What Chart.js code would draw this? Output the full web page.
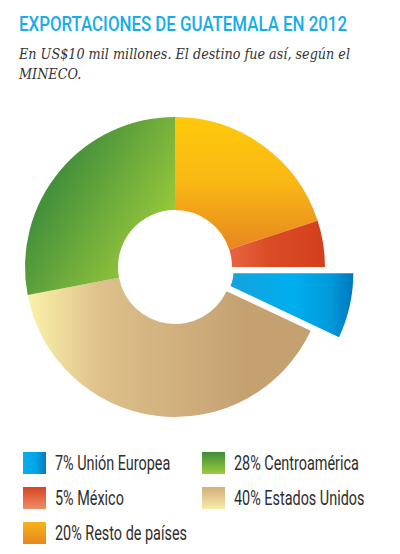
<!DOCTYPE html>
<html>
<head>
<meta charset="utf-8">
<script src="https://cdn.jsdelivr.net/npm/chart.js@4.4.1/dist/chart.umd.min.js"></script>
<style>
  html,body{margin:0;padding:0;background:#fff;}
  body{width:400px;height:554px;position:relative;overflow:hidden;}
  .fit{display:inline-block;transform-origin:0 0;white-space:nowrap;}
  #title{position:absolute;left:19px;top:12px;font-family:Roboto,"Liberation Sans",sans-serif;font-weight:500;font-size:20px;line-height:24px;color:#16ADE9;}
  #sub{position:absolute;left:19px;top:44px;font-family:"DejaVu Serif",serif;font-style:italic;font-size:14px;line-height:20px;color:#333;}
  #sub .fit{display:block;}
  #wrap{position:absolute;left:0;top:100px;width:400px;height:334px;}
  .item{position:absolute;height:22px;width:170px;}
  .sw{position:absolute;left:0;top:0;width:23px;height:22px;}
  .lbl{position:absolute;left:32px;top:-1px;line-height:24px;font-family:Roboto,"Liberation Sans",sans-serif;font-size:20px;color:#2e2e2e;}
</style>
</head>
<body>
<div id="title"><span class="fit" id="titleText">EXPORTACIONES DE GUATEMALA EN 2012</span></div>
<div id="sub"><span class="fit" id="sub1">En US$10 mil millones. El destino fue así, según el</span><span class="fit" id="sub2">MINECO.</span></div>
<div id="wrap"><canvas id="c" width="400" height="334"></canvas></div>
<div id="legend"></div>
<script>
// ---- Data (clockwise from 12 o'clock) ----
const categories = ["Resto de países", "México", "Unión Europea", "Estados Unidos", "Centroamérica"];
const shares = [20, 5, 7, 40, 28];
// Legend order (left column top-to-bottom, then right column)
const legendOrder = ["Unión Europea", "México", "Resto de países", "Centroamérica", "Estados Unidos"];

// ---- Styles ----
const explodedName = "Unión Europea";
const explodeDistance = 29;
const explodedInnerRadius = 30;

const swatchCss = {
  "Unión Europea": "linear-gradient(to right,#0AADEC,#00A6E6 55%,#0A78BB)",
  "Centroamérica": "linear-gradient(to bottom,#3C8C3A,#9CCB3C)",
  "México": "linear-gradient(to bottom,#D6451F,#F08C6B)",
  "Estados Unidos": "linear-gradient(to bottom,#D2AF7B,#F8EBA8)",
  "Resto de países": "linear-gradient(to bottom,#F6B41A,#E8861E)"
};

function makeFill(name, ctx, cx, cy) {
  let g;
  if (name === "Resto de países") {
    g = ctx.createLinearGradient(0, cy - 150, 0, cy - 20);
    g.addColorStop(0, "#FFC90A"); g.addColorStop(0.5, "#F9B815"); g.addColorStop(1, "#E8881F");
  } else if (name === "México") {
    g = ctx.createLinearGradient(cx + 57, 0, cx + 150, 0);
    g.addColorStop(0, "#E5643F"); g.addColorStop(0.4, "#DA4C25"); g.addColorStop(1, "#D3401C");
  } else if (name === "Unión Europea") {
    g = ctx.createLinearGradient(cx + 55, 0, cx + 180, 0);
    g.addColorStop(0, "#16A2DC"); g.addColorStop(0.5, "#00AEEF"); g.addColorStop(0.8, "#009ADA"); g.addColorStop(1, "#0075BC");
  } else if (name === "Estados Unidos") {
    g = ctx.createLinearGradient(cx - 150, 0, cx + 70, 0);
    g.addColorStop(0, "#FDF4AB"); g.addColorStop(0.35, "#DDC08A"); g.addColorStop(1, "#C5A172");
  } else {
    g = ctx.createLinearGradient(cx - 135, cy - 87, cx - 15, cy - 17);
    g.addColorStop(0, "#3B8A3B"); g.addColorStop(1, "#9DCB3C");
  }
  return g;
}

// Pull the exploded slice out along its mid-angle and thicken it inward
const explodePlugin = {
  id: "explode",
  afterDatasetsUpdate(chart) {
    const meta = chart.getDatasetMeta(0);
    const i = categories.indexOf(explodedName);
    const arc = meta.data[i];
    if (!arc) return;
    const mid = (arc.startAngle + arc.endAngle) / 2;
    arc.x += Math.cos(mid) * explodeDistance;
    arc.y += Math.sin(mid) * explodeDistance;
    arc.innerRadius = explodedInnerRadius;
  }
};

const chart = new Chart(document.getElementById("c"), {
  type: "doughnut",
  data: {
    labels: categories,
    datasets: [{
      data: shares,
      borderWidth: 0,
      backgroundColor: (c) => {
        const ca = c.chart.chartArea;
        if (!ca) return "#ccc";
        const cx = (ca.left + ca.right) / 2, cy = (ca.top + ca.bottom) / 2;
        return makeFill(categories[c.dataIndex], c.chart.ctx, cx, cy);
      }
    }]
  },
  options: {
    responsive: false,
    animation: false,
    radius: 150,
    cutout: "38%",
    layout: { padding: { left: 0, right: 50, top: 0, bottom: 0 } },
    plugins: { legend: { display: false }, tooltip: { enabled: false } }
  },
  plugins: [explodePlugin]
});

// ---- HTML legend built from the data ----
const legend = document.getElementById("legend");
const labelEls = [];
legendOrder.forEach((name, i) => {
  const idx = categories.indexOf(name);
  const col = i < 3 ? 0 : 1;
  const row = i < 3 ? i : i - 3;
  const d = document.createElement("div");
  d.className = "item";
  d.style.left = (col ? 202 : 23) + "px";
  d.style.top = (452 + row * 35) + "px";
  const sw = document.createElement("div");
  sw.className = "sw";
  sw.style.background = swatchCss[name];
  const lb = document.createElement("div");
  lb.className = "lbl";
  const sp = document.createElement("span");
  sp.className = "fit";
  sp.textContent = shares[idx] + "% " + name;
  lb.appendChild(sp);
  d.appendChild(sw); d.appendChild(lb);
  legend.appendChild(d);
  labelEls.push(sp);
});

// ---- Condense text to the reference's narrow typefaces ----
function fitTo(el, w) {
  const nat = el.getBoundingClientRect().width;
  const s = w / nat;
  el.style.transform = "scaleX(" + s + ")";
  return s;
}
fitTo(document.getElementById("titleText"), 328);
const s1 = fitTo(document.getElementById("sub1"), 331);
document.getElementById("sub2").style.transform = "scaleX(" + s1 + ")";
const refLabel = labelEls[2];
const ls = fitTo(refLabel, 132);
labelEls.forEach(e => e.style.transform = "scaleX(" + ls + ")");
</script>
</body>
</html>
